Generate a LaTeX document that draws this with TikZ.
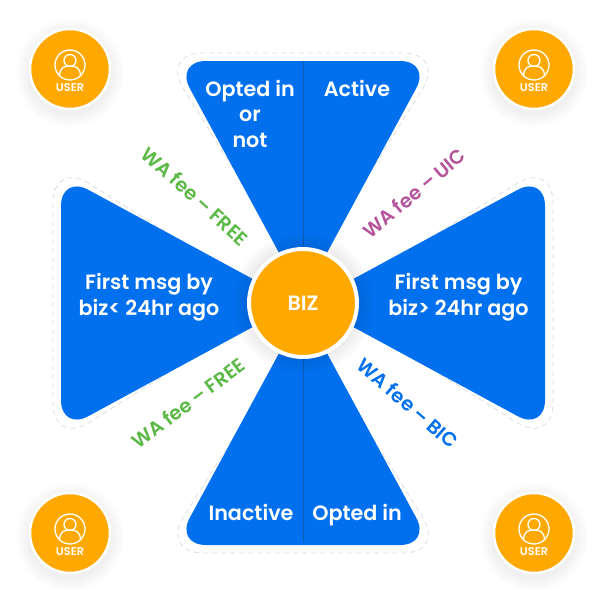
\documentclass[tikz,border=0pt]{standalone}
\usepackage{fontspec}
\setmainfont{Poppins SemiBold}
\usetikzlibrary{positioning,calc}
\definecolor{bizblue}{HTML}{0070EE}
\definecolor{bizline}{HTML}{0A5CB5}
\definecolor{bizorange}{HTML}{FFA800}
\definecolor{feegreen}{HTML}{5DB947}
\definecolor{feepink}{HTML}{B5559C}
\begin{document}
\begin{tikzpicture}[
    x=1pt, y=-1pt,
    wedge/.style={fill=bizblue, rounded corners=31pt},
    wedgeline/.style={draw=black!13, dashed, dash pattern=on 5pt off 4pt, line width=0.8pt, rounded corners=42pt},
    lbl/.style={text=white, font=\fontsize{20.7}{25.5}\selectfont, align=center, inner sep=0pt},
    fee/.style={font=\fontsize{19.5}{20}\selectfont, inner sep=0pt},
    userdisc/.style={circle, fill=bizorange, draw=white, line width=2.5pt, minimum size=80pt, inner sep=0pt},
    usertxt/.style={text=white, font=\fontsize{11.3}{12}\selectfont, inner sep=0pt},
    icon/.style={draw=white, line width=1.3pt},
]
\useasboundingbox[fill=white] (0,0) rectangle (598,589);

% Four wedges around the middle, dashed outline first
\foreach \ang in {0,90,180,270} {
    \begin{scope}[shift={(303,303)}, rotate=\ang]
        \begin{scope}
            \clip[rounded corners=42pt] (0,-23) -- (-142,-250) -- (142,-250) -- cycle;
            \shade[inner color=black!14, outer color=white] (0,0) circle (170);
        \end{scope}
        \draw[wedgeline] (0,-23) -- (-142,-250) -- (142,-250) -- cycle;
    \end{scope}
}
\foreach \ang in {0,90,180,270} {
    \begin{scope}[shift={(303,303)}, rotate=\ang]
        \fill[wedge] (0,-6) -- (-128,-242) -- (128,-242) -- cycle;
    \end{scope}
}

% Split of the top and bottom wedges
\draw[bizline, line width=1pt] (303,61) -- (303,542);

% Soft shadow, then the middle disc
\foreach \r in {70,67,...,55} {
    \fill[black, opacity=0.015] (303,303) circle (\r);
}
\node[circle, fill=bizorange, draw=white, line width=4pt, minimum size=108pt, inner sep=0pt, text=white, font=\fontsize{20.7}{25}\selectfont] (biz) at (303,303) {BIZ};

% Wedge texts
\node[lbl] (optedornot) at (250,113.5) {Opted in\\or\\not};
\node[lbl, anchor=base] (active) at (357,96) {Active};
\node[lbl] (firstearly) at (149,297) {First msg by\\biz< 24hr ago};
\node[lbl] (firstlate) at (458.5,297) {First msg by\\biz> 24hr ago};
\node[lbl, anchor=base] (inactive) at (251,520) {Inactive};
\node[lbl, anchor=base] (optedin) at (357,520) {Opted in};

% Fee labels
\node[fee, text=feegreen, rotate=-42] (feetopleft) at (195,196) {WA fee – FREE};
\node[fee, text=feepink, rotate=40] (feetopright) at (414,193) {WA fee – UIC};
\node[fee, text=feegreen, rotate=37] (feebottomleft) at (188,403) {WA fee – FREE};
\node[fee, text=bizblue, rotate=-41] (feebottomright) at (408,403) {WA fee – BIC};

% User badges in the corners
\foreach \n/\px/\py in {a/70/69, b/534/69, c/70/533, d/534/533} {
    \foreach \r in {54,51,...,42} {
        \fill[black, opacity=0.012] (\px,\py+4) circle (\r);
    }
    \node[userdisc] (user\n) at (\px,\py) {};
    \node[usertxt] (usertxt\n) at (\px,\py+19) {USER};
    \draw[icon] (\px,\py-4) circle (15);
    \draw[icon] (\px,\py-8.5) circle (6);
    \draw[icon] (\px-10.5,\py+6.5) .. controls (\px-10,\py-2) and (\px-5,\py-3) .. (\px,\py-3)
        .. controls (\px+5,\py-3) and (\px+10,\py-2) .. (\px+10.5,\py+6.5);
}
\end{tikzpicture}
\end{document}
